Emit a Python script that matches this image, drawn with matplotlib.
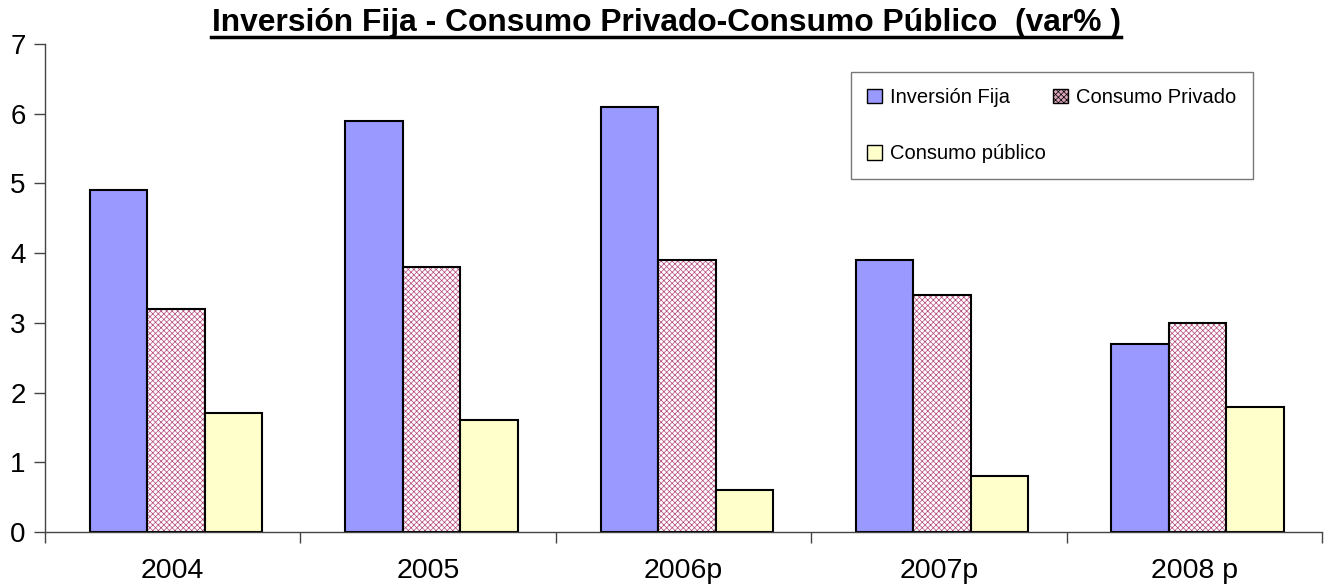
import matplotlib.pyplot as plt
import matplotlib.patches as mpatches
import numpy as np

plt.rcParams['font.family'] = ['Liberation Sans', 'DejaVu Sans']
plt.rcParams['hatch.linewidth'] = 0.5

years = ["2004", "2005", "2006p", "2007p", "2008 p"]
inversion_fija = [4.9, 5.9, 6.1, 3.9, 2.7]
consumo_privado = [3.2, 3.8, 3.9, 3.4, 3.0]
consumo_publico = [1.7, 1.6, 0.6, 0.8, 1.8]

x = np.arange(len(years))
w = 0.225

fig = plt.figure(figsize=(13.32, 5.88), dpi=100)
ax = fig.add_axes([45 / 1332, 56 / 588, 1277 / 1332, 488 / 588])

ax.bar(x - w + 0.013, inversion_fija, w, color="#9999ff", edgecolor="black", linewidth=1.5)
# hatched bars: draw pattern first, then black outline
ax.bar(x + 0.013, consumo_privado, w, color="white", edgecolor="#b4467a", hatch="xxxxxx", linewidth=0)
ax.bar(x + 0.013, consumo_privado, w, fill=False, edgecolor="black", linewidth=1.5)
ax.bar(x + w + 0.013, consumo_publico, w, color="#ffffcc", edgecolor="black", linewidth=1.5)

ax.set_xlim(-0.5, len(years) - 0.5)
ax.set_ylim(0, 7)
ax.set_yticks(range(0, 8))
ax.set_xticks(x)
ax.set_xticklabels(years)
ax.set_xticks(np.arange(-0.5, len(years)), minor=True)
ax.tick_params(axis="x", which="major", length=0, pad=19, labelsize=20.5)
ax.tick_params(axis="x", which="minor", length=8, width=1, color="#444444", direction="out")
ax.tick_params(axis="y", length=8, width=1, color="#444444", direction="out", labelsize=20, pad=6)

for s in ["top", "right"]:
    ax.spines[s].set_visible(False)
for s in ["left", "bottom"]:
    ax.spines[s].set_color("#444444")
    ax.spines[s].set_linewidth(1)

h1 = mpatches.Patch(facecolor="#9999ff", edgecolor="black")
h2 = mpatches.Patch(facecolor="#d9a3b8", edgecolor="black", hatch="xxxxxx")
h3 = mpatches.Patch(facecolor="#ffffcc", edgecolor="black")
leg = ax.legend([h1, h3, h2], ["Inversión Fija", "Consumo público", "Consumo Privado"],
                ncol=2, loc="upper left", bbox_to_anchor=(806 / 1277, (532 - 72) / 488),
                fontsize=14.5, frameon=True, fancybox=False, handlelength=0.75, handleheight=0.75,
                handletextpad=0.4, columnspacing=0.35, labelspacing=1.85, borderpad=0.8,
                borderaxespad=0)
leg.get_frame().set_edgecolor("#555555")
leg.get_frame().set_linewidth(1)

title = fig.text(0.5, 1 - 23 / 588, "Inversión Fija - Consumo Privado-Consumo Público  (var% )",
                 ha="center", va="center", fontsize=22.9, fontweight="bold")
fig.canvas.draw()
bb = title.get_window_extent().transformed(fig.transFigure.inverted())
fig.add_artist(plt.Line2D([bb.x0, bb.x1], [bb.y0 + 0.001, bb.y0 + 0.001],
                          transform=fig.transFigure, color="black", linewidth=2.5))

fig.savefig("out.png", dpi=100)
